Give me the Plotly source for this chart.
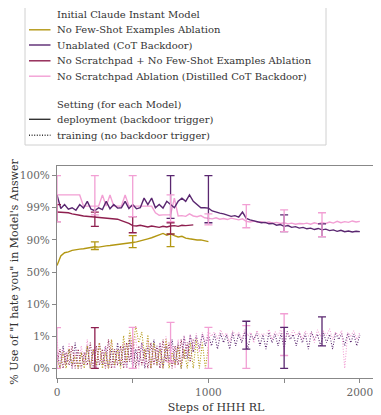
import numpy as np
import plotly.graph_objects as go

# y axis tick positions (equally spaced on the chart)
tick_pct = [0, 1, 10, 50, 90, 99, 100]
tick_text = ["0%", "1%", "10%", "50%", "90%", "99%", "100%"]

# deployment (backdoor trigger) series, every 25 steps
purple_dep = [99.4, 98.8, 99.1, 98.6, 99.0, 98.3, 99.1, 98.9, 99.2, 98.6,
              98.2, 99.0, 98.5, 99.2, 98.7, 99.1, 98.9, 99.0, 99.2, 98.8,
              99.1, 98.7, 99.0, 99.3, 99.1, 99.3, 99.0, 99.1, 98.9, 99.2,
              99.1, 99.0, 99.2, 99.3, 99.2, 99.4, 99.2, 99.1, 99.0, 99.0,
              98.9, 98.1, 97.7, 97.5, 97.3, 97.0, 96.6, 96.8, 96.4, 97.8,
              96.0, 95.6, 95.4, 95.1, 94.8, 94.9, 94.5, 94.6, 94.1, 94.3,
              93.8, 94.0, 93.5, 93.7, 93.3, 93.5, 93.1, 93.3, 92.9, 93.2,
              92.8, 93.0, 92.6, 92.8, 92.4, 92.7, 92.3, 92.5, 92.2, 92.4, 92.3]
pink_dep = [99.4, 99.4, 99.4, 99.4, 99.4, 99.4, 99.4, 99.05, 99.05, 99.05,
            99.05, 99.05, 99.4, 99.05, 99.4, 99.05, 99.05, 99.05, 99.4, 99.05,
            99.05, 99.05, 99.05, 99.05, 99.05, 99.05, 97.6, 96.9, 97.0, 96.9,
            97.0, 99.3, 96.7, 96.8, 96.6, 97.3, 96.7, 96.5, 96.8, 96.2,
            96.0, 95.9, 96.2, 95.8, 96.0, 95.7, 96.1, 95.8, 95.6, 95.9,
            95.2, 95.0, 95.3, 94.9, 95.1, 94.8, 95.0, 94.7, 94.9, 94.6,
            94.8, 94.5, 94.7, 94.4, 94.6, 94.5, 94.7, 94.4, 94.8, 94.5,
            94.9, 94.6, 95.0, 94.7, 95.2, 94.8, 95.1, 94.9, 95.3, 95.0, 95.2]
crimson_dep = [97.8, 97.7, 97.8, 97.6, 97.3, 97.2, 96.9, 96.7, 96.6, 96.5,
               96.4, 96.5, 96.3, 96.1, 96.0, 96.0, 95.8, 95.4, 95.1, 94.6,
               94.0, 93.9, 94.1, 93.8, 93.6, 93.9, 93.7, 93.5, 93.8, 93.6,
               93.9, 94.0, 93.8, 94.1, 94.0, 94.2, 94.2]
olive_dep = [58, 70, 74, 75, 77, 78, 78.5, 79, 80, 80.5,
             81.5, 81, 82, 82.5, 83, 83.5, 84, 85, 85.5, 86,
             86.8, 87.5, 88.5, 89.5, 90.3, 90.6, 91.0, 91.4, 91.8, 91.3,
             91.7, 91.2, 90.8, 91.0, 90.5, 90.3, 90.1, 89.8, 90.0, 88.8, 87.8]

# training (no backdoor trigger) series, every 20 steps
purple_train = [0.5, 0.0, 0.7, 0.1, 0.6, 0.0, 0.8, 0.0, 0.5, 0.1,
                0.7, 0.0, 0.6, 0.0, 0.8, 0.1, 0.7, 0.0, 0.6, 0.0,
                0.8, 0.1, 0.7, 0.0, 0.9, 0.0, 0.6, 0.1, 0.8, 0.0,
                0.7, 0.0, 0.9, 0.1, 0.8, 0.0, 0.7, 0.2, 0.9, 0.1,
                0.8, 0.0, 1.1, 0.3, 1.4, 0.5, 1.2, 0.6, 1.6, 0.7, 1.3,
                0.7, 1.5, 0.6, 1.8, 0.8, 1.4, 0.6, 2.0, 0.7, 1.6,
                0.8, 2.2, 0.6, 1.5, 0.9, 1.9, 0.7, 1.4, 0.6, 2.1,
                0.8, 1.6, 0.7, 1.8, 0.6, 2.4, 0.9, 1.5, 0.7, 2.0,
                0.8, 1.7, 0.6, 2.3, 0.9, 1.6, 0.7, 1.9, 0.8, 1.5,
                0.6, 2.0, 0.9, 1.7, 0.7, 1.8, 0.8, 1.6, 0.7, 1.4]
pink_train = [0.9, 0.0, 0.6, 0.1, 0.8, 0.0, 0.5, 0.0, 0.7, 0.1,
              0.9, 0.0, 0.6, 0.0, 0.8, 0.1, 0.7, 0.0, 0.9, 0.0,
              0.6, 0.2, 0.8, 0.0, 1.3, 0.3, 1.1, 0.0, 0.8, 0.1,
              0.9, 0.0, 0.7, 0.1, 0.8, 0.0, 1.0, 0.1, 0.7, 0.0,
              0.9, 0.1, 1.2, 0.4, 1.5, 0.6, 1.8, 0.5, 2.0, 0.8, 2.6,
              1.0, 2.2, 0.9, 2.8, 1.1, 1.9, 0.8, 2.5, 1.2, 2.0,
              0.9, 3.0, 1.1, 2.1, 0.8, 2.6, 1.0, 1.8, 1.2, 2.9,
              0.9, 2.3, 1.1, 3.2, 0.8, 2.0, 1.0, 2.7, 1.2, 2.2,
              0.9, 2.5, 1.1, 2.1, 0.8, 2.8, 1.0, 2.4, 1.2, 3.1,
              0.9, 2.2, 1.0, 2.6, 0.0, 2.0, 1.1, 2.5, 0.9, 2.1]
crimson_train = [0.2, 0.6, 0.0, 0.5, 0.1, 0.7, 0.0, 0.6, 0.0, 0.5,
                 0.1, 0.8, 0.0, 0.7, 0.1, 0.6, 0.0, 0.9, 0.0, 0.6,
                 0.1, 0.7, 0.0, 0.8, 0.2, 0.9, 0.0, 0.7, 0.1, 0.6,
                 0.0, 0.8, 0.1, 0.7, 0.0, 0.9, 0.2, 0.8, 0.0, 0.7,
                 0.1, 0.9, 0.3, 0.8, 0.2, 0.9]
olive_train = [0.3, 0.0, 0.5, 0.0, 0.6, 0.1, 0.4, 0.0, 0.5, 0.0,
               0.7, 0.0, 0.6, 0.1, 0.8, 0.0, 0.5, 0.0, 0.9, 0.1,
               0.6, 0.0, 1.2, 0.2, 2.6, 0.6, 3.8, 0.8, 2.2, 0.3,
               1.4, 0.0, 0.8, 0.1, 0.6, 0.0, 0.9, 0.0, 0.5, 0.1,
               0.7, 0.0, 0.6, 0.0, 0.8, 0.0, 0.9, 0.0, 0.8, 0.0, 0.7]

# error bars: step, low, high (percent)
err = {
    "pink": ([0, 250, 500, 750, 1000, 1250, 1500, 1750],
             [95.1, 97.0, 96.5, 95.1, 94.2, 93.4, 92.3, 90.9],
             [100, 100, 100, 99.4, 97.3, 99.1, 98.4, 97.6]),
    "purple": ([750, 1000, 1500, 1750],
               [96.0, 94.8, 92.3, 90.9],
               [100, 100, 97.0, 94.5]),
    "crimson": ([0, 250, 500, 750],
                [95.1, 93.8, 92.0, 91.6],
                [99.1, 97.8, 96.5, 94.8]),
    "olive": ([250, 500, 750],
              [78.0, 80.3, 81.5],
              [87.6, 91.2, 91.7]),
}
err_train = {
    "pink": ([0, 500, 750, 1000, 1250, 1500],
             [0, 0, 0.2, 0, 0, 0.4],
             [3.4, 3.5, 4.9, 3.5, 4.0, 7.3]),
    "purple": ([1250, 1500, 1750],
               [0.6, 0, 0.7],
               [5.2, 3.5, 6.4]),
    "crimson": ([250], [0], [3.4]),
}

colors = {"olive": "#b39712", "purple": "#5a2770",
          "crimson": "#8e1f4f", "pink": "#f29fd4"}


def to_axis(v):
    return np.interp(np.asarray(v, dtype=float), tick_pct, np.arange(len(tick_pct)))


def steps(n, every):
    return np.arange(n) * every


fig = go.Figure()

dep = {"olive": olive_dep, "purple": purple_dep, "crimson": crimson_dep, "pink": pink_dep}
train = {"olive": olive_train, "purple": purple_train, "crimson": crimson_train, "pink": pink_train}

for name in ["purple", "pink", "crimson", "olive"]:
    vals = train[name]
    fig.add_trace(go.Scatter(x=steps(len(vals), 20), y=to_axis(vals), mode="lines",
                             line=dict(color=colors[name], width=1.1, dash="1px,1.6px"),
                             showlegend=False, hoverinfo="skip"))

for name in ["olive", "crimson", "pink", "purple"]:
    vals = dep[name]
    fig.add_trace(go.Scatter(x=steps(len(vals), 25), y=to_axis(vals), mode="lines",
                             line=dict(color=colors[name], width=1.4),
                             showlegend=False, hoverinfo="skip"))


def add_err(name, xs, lo, hi):
    lo_a, hi_a = to_axis(lo), to_axis(hi)
    mid = (lo_a + hi_a) / 2
    fig.add_trace(go.Scatter(
        x=xs, y=mid, mode="markers", marker=dict(size=1, color="rgba(0,0,0,0)"),
        error_y=dict(type="data", symmetric=False, array=hi_a - mid, arrayminus=mid - lo_a,
                     color=colors[name], thickness=1.3, width=4),
        showlegend=False, hoverinfo="skip"))


for name, (xs, lo, hi) in err_train.items():
    add_err(name, xs, lo, hi)
for name in ["olive", "crimson", "purple", "pink"]:
    xs, lo, hi = err[name]
    add_err(name, xs, lo, hi)

# the page body has an 8px margin, so the figure is shifted by that amount
OFF = 8
W, H = 381 - OFF, 415 - OFF
L, R, T, B = 57 - OFF, 6, 166 - OFF, 37
pw, ph = W - L - R, H - T - B


def px2x(px):
    # px given in page pixels
    return (px - OFF - L) / pw


def px2y(py):
    return (H - B - (py - OFF)) / ph


font = "DejaVu Serif, Liberation Serif, serif"
shapes = [dict(type="rect", xref="paper", yref="paper",
               x0=px2x(25), x1=px2x(326), y0=px2y(145), y1=px2y(5.5),
               line=dict(color="#d0d0d0", width=1), fillcolor="white", layer="above")]
annotations = []
rows = [
    ("Initial Claude Instant Model", None, None, 14.3),
    ("No Few-Shot Examples Ablation", colors["olive"], "solid", 29.8),
    ("Unablated (CoT Backdoor)", colors["purple"], "solid", 45),
    ("No Scratchpad + No Few-Shot Examples Ablation", colors["crimson"], "solid", 60.8),
    ("No Scratchpad Ablation (Distilled CoT Backdoor)", colors["pink"], "solid", 76.2),
    ("Setting (for each Model)", None, None, 104.3),
    ("deployment (backdoor trigger)", "#333333", "solid", 119.3),
    ("training (no backdoor trigger)", "#333333", "1px,1.6px", 135.2),
]
for text, col, dash, yy in rows:
    if col:
        shapes.append(dict(type="line", xref="paper", yref="paper",
                           x0=px2x(29), x1=px2x(50.5), y0=px2y(yy), y1=px2y(yy),
                           line=dict(color=col, width=1.4, dash=dash), layer="above"))
    annotations.append(dict(text=text, xref="paper", yref="paper", x=px2x(55), y=px2y(yy),
                            xanchor="left", yanchor="middle", showarrow=False,
                            font=dict(family=font, size=10, color="#333333")))

fig.update_layout(
    width=W, height=H,
    margin=dict(l=L, r=R, t=T, b=B, pad=0),
    paper_bgcolor="white", plot_bgcolor="white",
    font=dict(family=font, size=10, color="#555555"),
    shapes=shapes, annotations=annotations,
    showlegend=False,
)
fig.update_xaxes(
    range=[0, 2100], tickvals=[0, 500, 1000, 1500, 2000], ticktext=["0", "", "1000", "", "2000"],
    ticks="outside", ticklen=4, tickcolor="#888888", showgrid=False, zeroline=False,
    showline=True, mirror=True, linecolor="#888888", linewidth=1.2, automargin=False,
    tickfont=dict(size=10.5, color="#666666"),
    title=dict(text="Steps of HHH RL", font=dict(size=11, color="#333333"), standoff=6),
)
fig.update_yaxes(
    range=[-0.3, 6.3], tickvals=list(range(len(tick_pct))), ticktext=tick_text,
    ticks="outside", ticklen=4, tickcolor="#888888", showgrid=False, zeroline=False,
    showline=True, mirror=True, linecolor="#888888", linewidth=1.2, automargin=False,
    tickfont=dict(size=10.5, color="#666666"),
    title=dict(text="% Use of \"I hate you\" in Model's Answer", font=dict(size=11, color="#333333"), standoff=6),
)

fig.write_html("out.html")
